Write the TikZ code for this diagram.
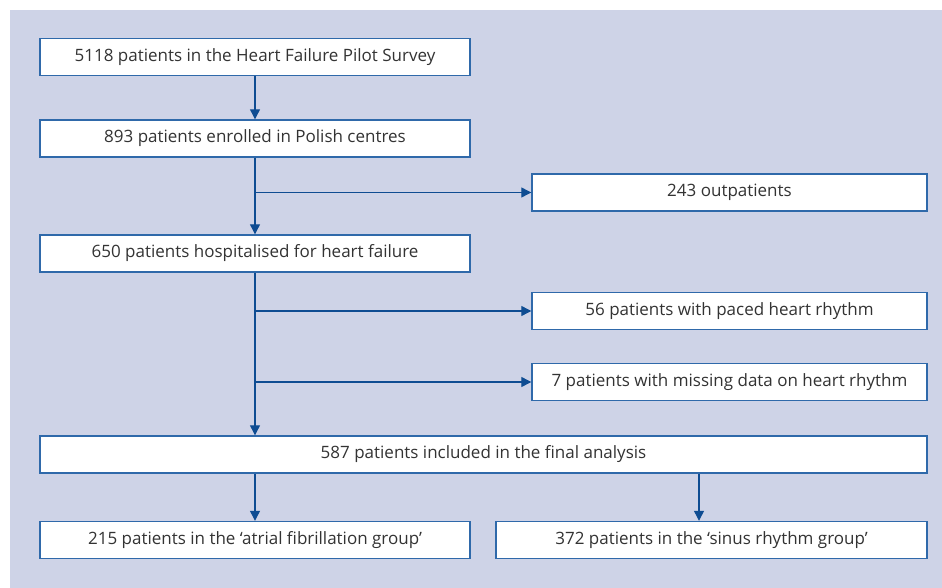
\documentclass[tikz,border=0pt]{standalone}
\usepackage{fontspec}
\setmainfont{Open Sans}
\usetikzlibrary{arrows.meta}
\definecolor{panel}{HTML}{CED3E7}
\definecolor{boxline}{HTML}{2F69AA}
\definecolor{flowline}{HTML}{0E4C92}
\definecolor{txt}{HTML}{333333}
\tikzset{
  box/.style={draw=boxline, line width=1.4pt, fill=white, text=txt,
    minimum height=37pt, inner sep=0pt, font=\fontsize{17}{19}\selectfont},
  flow/.style={draw=flowline, line width=1.2pt, -{Triangle[length=10pt,width=10pt]}}
}
\begin{document}
\begin{tikzpicture}[x=1pt,y=-1pt]
\useasboundingbox (0,0) rectangle (942,588);
\fill[panel] (10,10) rectangle (942,588);

\node[box, minimum width=430pt] (survey) at (255,57) {5118 patients in the Heart Failure Pilot Survey};
\node[box, minimum width=430pt] (polish) at (255,138.5) {893 patients enrolled in Polish centres};
\node[box, minimum width=395pt] (outpat) at (729.5,192.5) {243 outpatients};
\node[box, minimum width=430pt] (hosp) at (255,253.5) {650 patients hospitalised for heart failure};
\node[box, minimum width=395pt] (paced) at (729.5,311) {56 patients with paced heart rhythm};
\node[box, minimum width=395pt] (missing) at (729.5,382) {7 patients with missing data on heart rhythm};
\node[box, minimum width=887pt] (final) at (483.5,454.5) {587 patients included in the final analysis};
\node[box, minimum width=430pt] (afib) at (255,540) {215 patients in the ‘atrial fibrillation group’};
\node[box, minimum width=431pt] (sinus) at (711.5,540) {372 patients in the ‘sinus rhythm group’};

\draw[flow] (survey) -- (polish);
\draw[flow] (polish) -- (hosp);
\draw[flow] (polish.south |- outpat.west) -- (outpat);
\draw[flow] (hosp) -- (hosp.south |- final.north);
\draw[flow] (hosp.south |- paced.west) -- (paced);
\draw[flow] (hosp.south |- missing.west) -- (missing);
\draw[flow] (afib.north |- final.south) -- (afib);
\coordinate (split) at (699,0);
\draw[flow] (split |- final.south) -- (split |- sinus.north);
\end{tikzpicture}
\end{document}
